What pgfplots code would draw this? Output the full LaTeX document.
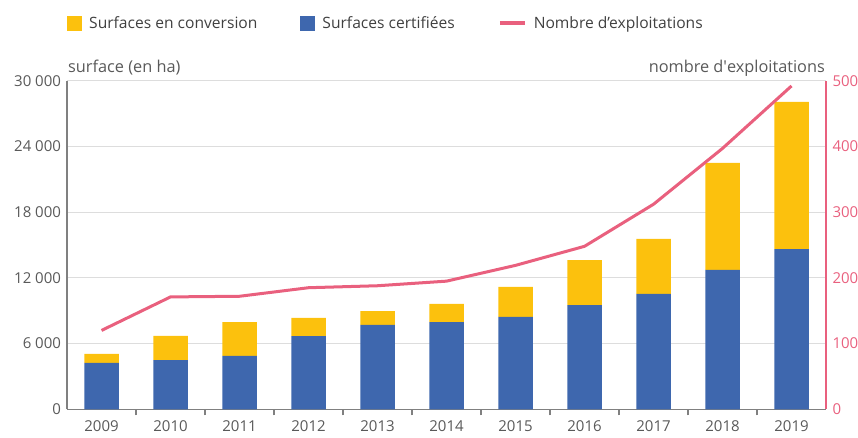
\documentclass[border=0pt]{standalone}
\usepackage{pgfplots}
\usepackage{pgfplotstable}
\pgfplotsset{compat=1.18}
\usepackage{fontspec}
\setmainfont{Open Sans}
\definecolor{cyellow}{HTML}{FCC10D}
\definecolor{cblue}{HTML}{3E67AE}
\definecolor{cpink}{HTML}{E9607E}
\definecolor{ctext}{HTML}{595959}
\definecolor{clegend}{HTML}{404040}
\definecolor{cgrid}{HTML}{DDDDDD}
\definecolor{caxis}{HTML}{808080}

\pgfplotstableread{
year cert conv nb
0 4230 820 120
1 4500 2200 171
2 4870 3100 172
3 6690 1650 185
4 7700 1270 188
5 7970 1650 195
6 8430 2740 219
7 9520 4110 248
8 10530 5020 312
9 12720 9780 397
10 14630 13430 492
}\data

\begin{document}
\begin{tikzpicture}
\path[use as bounding box] (0,0) rectangle (858pt,437pt);
\begin{axis}[
  at={(67pt,27.7pt)}, anchor=south west,
  scale only axis, width=759pt, height=328.6pt,
  xmin=-0.5, xmax=10.5, ymin=0, ymax=30000,
  clip=false,
  scaled y ticks=false,
  ybar stacked, bar width=0.5,
  axis y line*=left, axis x line*=bottom,
  x axis line style={caxis, line width=1.2pt, -},
  y axis line style={caxis, line width=1.2pt, -},
  ytick={0,6000,12000,18000,24000,30000},
  yticklabels={0,6 000,12 000,18 000,24 000,30 000},
  ymajorgrids, grid style={cgrid, line width=1pt},
  xtick={0,...,10},
  xticklabels={2009,2010,2011,2012,2013,2014,2015,2016,2017,2018,2019},
  minor xtick={0.5,1.5,...,9.5},
  major tick length=0pt,
  minor tick length=6pt,
  tick align=outside,
  minor x tick style={caxis, line width=1.2pt},
  ticklabel style={font=\fontsize{15}{17}\selectfont, text=ctext},
  yticklabel style={xshift=-2.5pt},
  xticklabel style={yshift=-8pt},
  reverse legend,
  legend columns=3,
  legend cell align=left,
  legend style={draw=none, fill=none, inner sep=0pt,
    at={(0,1.1756)}, anchor=west,
    font=\fontsize{15.6}{18}\selectfont, text=clegend,
    /tikz/every odd column/.append style={column sep=5pt},
    /tikz/every even column/.append style={column sep=41pt}},
]
\addlegendimage{legend image code/.code={\draw[cpink, line width=4pt] (0pt,0pt) -- (25pt,0pt);}}
\addlegendentry{Nombre d’exploitations}
\addplot[fill=cblue, draw=none,
  legend image code/.code={\fill[cblue] (0pt,-7.5pt) rectangle (15pt,7.5pt);}]
  table[x=year, y=cert]{\data};
\addlegendentry{Surfaces certifiées}
\addplot[fill=cyellow, draw=none,
  legend image code/.code={\fill[cyellow] (0pt,-7.5pt) rectangle (15pt,7.5pt);}]
  table[x=year, y=conv]{\data};
\addlegendentry{Surfaces en conversion}
\node[anchor=base west, font=\fontsize{16.3}{18}\selectfont, text=ctext, inner sep=0pt]
  at (rel axis cs:0,1) [xshift=1pt, yshift=8pt] {surface (en ha)};
\end{axis}
\begin{axis}[
  at={(67pt,27.7pt)}, anchor=south west,
  scale only axis, width=759pt, height=328.6pt,
  xmin=-0.5, xmax=10.5, ymin=0, ymax=500,
  clip=false,
  axis x line=none, axis y line*=right,
  y axis line style={cpink, line width=1.2pt, -},
  ytick={0,100,...,500},
  major tick length=0pt,
  /pgf/number format/assume math mode=true,
  yticklabel style={font=\fontsize{15}{17}\selectfont, text=cpink, xshift=3pt},
]
\addplot[cpink, line width=3pt, mark=none] table[x=year, y=nb]{\data};
\node[anchor=base east, font=\fontsize{16.3}{18}\selectfont, text=ctext, inner sep=0pt]
  at (rel axis cs:1,1) [xshift=-1pt, yshift=8pt] {nombre d\textquotesingle exploitations};
\end{axis}
\end{tikzpicture}
\end{document}
